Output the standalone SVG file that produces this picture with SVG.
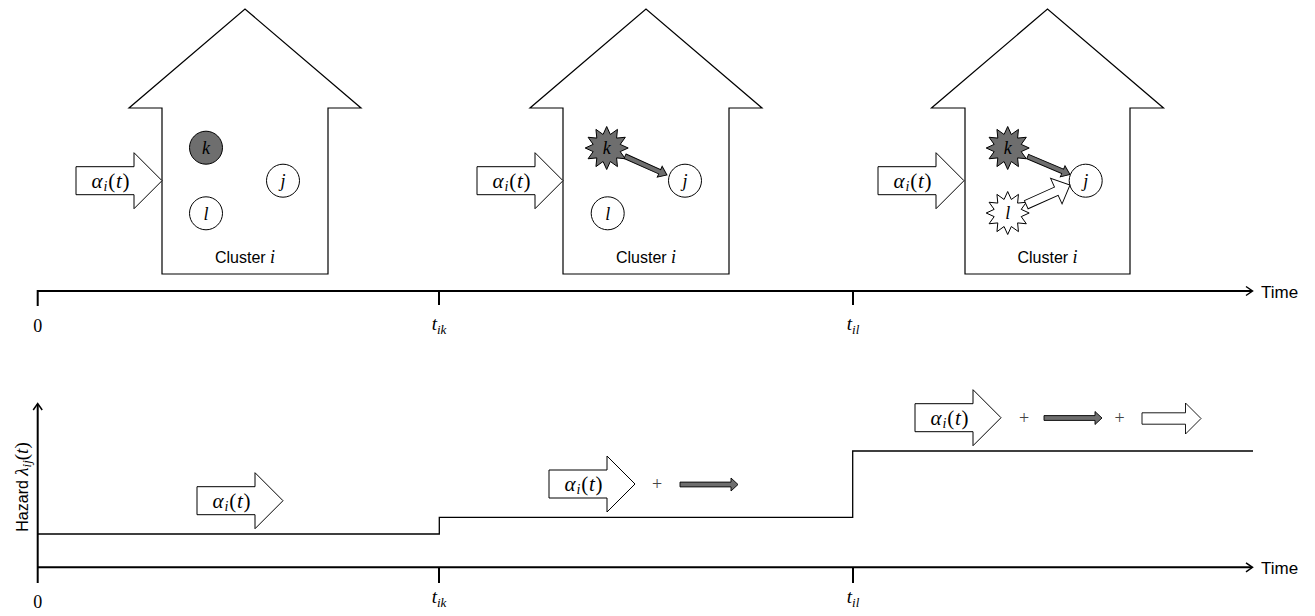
<svg xmlns="http://www.w3.org/2000/svg" width="1315" height="616" viewBox="0 0 1315 616">
<style>
.house{fill:#fff;stroke:#000;stroke-width:1.2}
.ain{fill:#fff;stroke:#000;stroke-width:1}
.node{fill:#fff;stroke:#000;stroke-width:1}
.dark{fill:#6e6e6e;stroke:#000;stroke-width:1}
.garrow{fill:#6e6e6e;stroke:#000;stroke-width:0.9}
.warrow{fill:#fff;stroke:#000;stroke-width:0.9}
.axis{fill:none;stroke:#000;stroke-width:2}
.step{fill:none;stroke:#000;stroke-width:1.3}
.sans{font-family:"Liberation Sans",Arial,sans-serif;fill:#000}
.m{font-family:"Liberation Serif","Times New Roman",serif;fill:#000}
.it{font-style:italic}
.alpha{font-family:"Liberation Serif","Times New Roman",serif;font-size:21px;letter-spacing:0.8px;fill:#000}
.lbl{font-family:"Liberation Serif","Times New Roman",serif;font-style:italic;font-size:18px;fill:#000}
.plus{font-family:"Liberation Serif",serif;font-size:18px;fill:#444}
</style>
<defs>
<path id="bigarrow" d="M0,-14 H58 V-28 L86,0 L58,28 V14 H0 Z"/>
<polygon id="star" points="0,-21.5 3.62,-13.52 10.75,-18.62 9.9,-9.9 18.62,-10.75 13.52,-3.62 21.5,0 13.52,3.62 18.62,10.75 9.9,9.9 10.75,18.62 3.62,13.52 0,21.5 -3.62,13.52 -10.75,18.62 -9.9,9.9 -18.62,10.75 -13.52,3.62 -21.5,0 -13.52,-3.62 -18.62,-10.75 -9.9,-9.9 -10.75,-18.62 -3.62,-13.52"/>
<path id="gray58" d="M-58,-2.4 H-7 V-6.5 L0,0 L-7,6.5 V2.4 H-58 Z"/>
<path id="gray46" d="M-46,-2.4 H-8 V-6 L0,0 L-8,6 V2.4 H-46 Z"/>
<path id="white59" d="M-59,-5.7 H-15.5 V-15.5 L0,0 L-15.5,15.5 V5.7 H-59 Z"/>
<path id="white48" d="M-48,-4.5 H-15 V-14 L0,0 L-15,14 V4.5 H-48 Z"/>
</defs>

<g id="house1">
<polygon class="house" points="162,274 162,108 129,108 245,9 361,108 328,108 328,274"/>
<use href="#bigarrow" class="ain" transform="translate(76,180.7)"/>
<text class="alpha" x="111" y="187.5" text-anchor="middle"><tspan class="it">α</tspan><tspan class="it" font-size="14" dy="3">i</tspan><tspan dy="-3">(</tspan><tspan class="it">t</tspan>)</text>
<circle class="dark" cx="206" cy="147.7" r="16.5"/>
<text class="lbl" x="206" y="153.5" text-anchor="middle">k</text>
<circle class="node" cx="283" cy="180.7" r="16.5"/>
<text class="lbl" x="283" y="186.5" text-anchor="middle">j</text>
<circle class="node" cx="206" cy="213.3" r="16.5"/>
<text class="lbl" x="206" y="219.5" text-anchor="middle">l</text>
<text class="sans" x="245" y="263" font-size="16" text-anchor="middle">Cluster <tspan class="m it" font-size="18">i</tspan></text>
</g>

<g id="house2">
<polygon class="house" points="563,274 563,108 530,108 646,9 762,108 729,108 729,274"/>
<use href="#bigarrow" class="ain" transform="translate(477,180.7)"/>
<text class="alpha" x="512" y="187.5" text-anchor="middle"><tspan class="it">α</tspan><tspan class="it" font-size="14" dy="3">i</tspan><tspan dy="-3">(</tspan><tspan class="it">t</tspan>)</text>
<use href="#star" class="dark" transform="translate(606.7,148)"/>
<text class="lbl" x="606.7" y="154" text-anchor="middle">k</text>
<circle class="node" cx="685" cy="180.7" r="16.5"/>
<text class="lbl" x="685" y="186.5" text-anchor="middle">j</text>
<circle class="node" cx="607.7" cy="213.3" r="16.5"/>
<text class="lbl" x="607.7" y="219.5" text-anchor="middle">l</text>
<text class="sans" x="646" y="263" font-size="16" text-anchor="middle">Cluster <tspan class="m it" font-size="18">i</tspan></text>
</g>

<g id="house3">
<polygon class="house" points="965,274 965,108 931.5,108 1047.5,9 1163.5,108 1130,108 1130,274"/>
<use href="#bigarrow" class="ain" transform="translate(878,180.7)"/>
<text class="alpha" x="913" y="187.5" text-anchor="middle"><tspan class="it">α</tspan><tspan class="it" font-size="14" dy="3">i</tspan><tspan dy="-3">(</tspan><tspan class="it">t</tspan>)</text>
<use href="#star" class="dark" transform="translate(1007.7,148)"/>
<text class="lbl" x="1007.7" y="154" text-anchor="middle">k</text>
<circle class="node" cx="1085.7" cy="180.7" r="16.5"/>
<text class="lbl" x="1085.7" y="186.5" text-anchor="middle">j</text>
<use href="#star" class="node" transform="translate(1007.7,213)"/>
<text class="lbl" x="1007.7" y="219" text-anchor="middle">l</text>
<text class="sans" x="1047.5" y="263" font-size="16" text-anchor="middle">Cluster <tspan class="m it" font-size="18">i</tspan></text>
</g>

<g id="connectors">
<use href="#gray46" class="garrow" transform="translate(667,175) rotate(24.1)"/>
<use href="#gray46" class="garrow" transform="translate(1070,174.5) rotate(23)"/>
<use href="#white48" class="warrow" transform="translate(1070,185) rotate(-24.2)"/>
</g>

<g id="timeline">
<path class="axis" d="M37.7,306 V291 H1252"/>
<path class="axis" d="M439,291 V305 M853,291 V305"/>
<path d="M1246,286.5 L1252.5,291 L1246,295.5" fill="none" stroke="#000" stroke-width="1.5"/>
<text class="sans" x="1261" y="298" font-size="17">Time</text>
<text class="m" x="37.7" y="332" font-size="18" text-anchor="middle">0</text>
<text class="m" x="439" y="330" font-size="19" text-anchor="middle"><tspan class="it">t</tspan><tspan class="it" font-size="13" dy="4">ik</tspan></text>
<text class="m" x="853" y="330" font-size="19" text-anchor="middle"><tspan class="it">t</tspan><tspan class="it" font-size="13" dy="4">il</tspan></text>
</g>

<g id="hazard">
<path class="axis" d="M37.7,583 V404"/>
<path d="M33.2,410 L37.7,403.5 L42.2,410" fill="none" stroke="#000" stroke-width="1.5"/>
<path class="axis" d="M37.7,567.3 H1252"/>
<path class="axis" d="M439,567.3 V583 M853,567.3 V583"/>
<path d="M1246,562.8 L1252.5,567.3 L1246,571.8" fill="none" stroke="#000" stroke-width="1.5"/>
<text class="sans" x="1261" y="574" font-size="17">Time</text>
<text class="m" x="37.7" y="608" font-size="18" text-anchor="middle">0</text>
<text class="m" x="439" y="603" font-size="19" text-anchor="middle"><tspan class="it">t</tspan><tspan class="it" font-size="13" dy="4">ik</tspan></text>
<text class="m" x="853" y="603" font-size="19" text-anchor="middle"><tspan class="it">t</tspan><tspan class="it" font-size="13" dy="4">il</tspan></text>
<text class="sans" transform="translate(27.5,487) rotate(-90)" font-size="16" text-anchor="middle">Hazard <tspan class="m it" font-size="19">λ</tspan><tspan class="m it" font-size="13" dy="3">ij</tspan><tspan class="m" font-size="19" dy="-3">(</tspan><tspan class="m it" font-size="19">t</tspan><tspan class="m" font-size="19">)</tspan></text>
<path class="step" d="M37.7,534 H439.3 V517.3 H852.7 V451 H1253"/>

<use href="#bigarrow" class="ain" transform="translate(197,500.7)"/>
<text class="alpha" x="232" y="507.5" text-anchor="middle"><tspan class="it">α</tspan><tspan class="it" font-size="14" dy="3">i</tspan><tspan dy="-3">(</tspan><tspan class="it">t</tspan>)</text>

<use href="#bigarrow" class="ain" transform="translate(549,484)"/>
<text class="alpha" x="584" y="490.8" text-anchor="middle"><tspan class="it">α</tspan><tspan class="it" font-size="14" dy="3">i</tspan><tspan dy="-3">(</tspan><tspan class="it">t</tspan>)</text>
<text class="plus" x="657" y="490" text-anchor="middle">+</text>
<use href="#gray58" class="garrow" transform="translate(738,484.5)"/>

<use href="#bigarrow" class="ain" transform="translate(915,417.7)"/>
<text class="alpha" x="950" y="424.5" text-anchor="middle"><tspan class="it">α</tspan><tspan class="it" font-size="14" dy="3">i</tspan><tspan dy="-3">(</tspan><tspan class="it">t</tspan>)</text>
<text class="plus" x="1024" y="424" text-anchor="middle">+</text>
<use href="#gray58" class="garrow" transform="translate(1102,418)"/>
<text class="plus" x="1119.5" y="424" text-anchor="middle">+</text>
<use href="#white59" class="warrow" transform="translate(1201,418.5)"/>
</g>
</svg>
